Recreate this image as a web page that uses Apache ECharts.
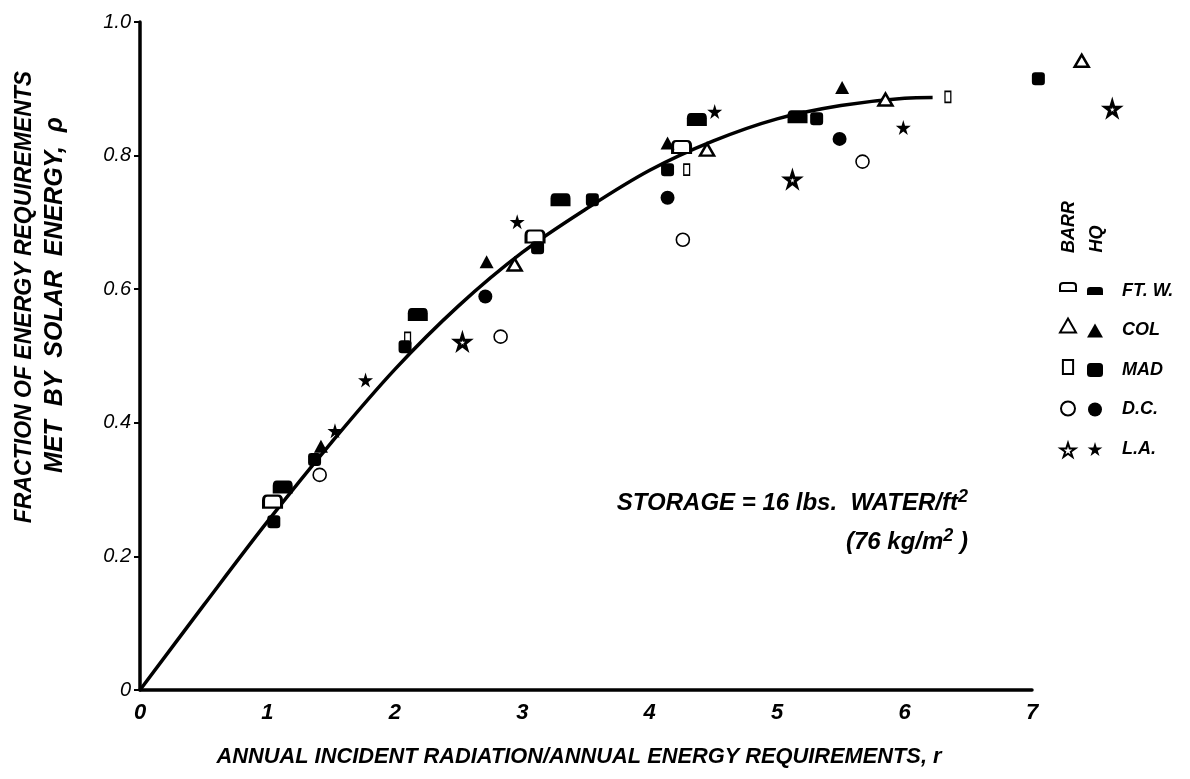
<!DOCTYPE html>
<html>
<head>
<meta charset="utf-8">
<title>Solar fraction vs. radiation/requirements ratio</title>
<script src="https://cdn.jsdelivr.net/npm/echarts@6/dist/echarts.min.js"></script>
<style>
  html, body { margin: 0; padding: 0; background: #fff; }
  #chart { width: 1190px; height: 779px; }
</style>
</head>
<body>
<div id="chart"></div>
<script>
// Axis ticks
const xTicks = [0, 1, 2, 3, 4, 5, 6, 7];
const yTickLabels = { 0: '0', 0.2: '0.2', 0.4: '0.4', 0.6: '0.6', 0.8: '0.8', 1: '1.0' };

// Fitted curve through the data
const curveX = [0, 0.5, 1, 1.5, 2, 2.5, 3, 3.5, 4, 4.5, 5, 5.5, 6, 6.22];
const curveY = [0, 0.127, 0.252, 0.37, 0.48, 0.575, 0.655, 0.72, 0.778, 0.822, 0.855, 0.875, 0.886, 0.887];

// Measured points: [r, rho] per site, BARR and HQ systems
const ftwBarr = [[1.04, 0.282], [3.10, 0.679], [4.25, 0.813]];
const ftwHq   = [[1.12, 0.304], [2.18, 0.562], [3.30, 0.734], [4.37, 0.854], [5.16, 0.858]];
const colBarr = [[2.94, 0.637], [4.45, 0.809], [5.85, 0.884], [7.39, 0.942]];
const colHq   = [[1.42, 0.365], [2.72, 0.641], [4.14, 0.819], [5.51, 0.902]];
const madBarr = [[2.10, 0.527], [4.29, 0.779], [6.34, 0.888]];
const madHq   = [[1.05, 0.252], [1.37, 0.345], [2.08, 0.514], [3.12, 0.662], [3.55, 0.734], [4.14, 0.779], [5.31, 0.855], [7.05, 0.915]];
const dcBarr  = [[1.41, 0.322], [2.83, 0.529], [4.26, 0.674], [5.67, 0.791]];
const dcHq    = [[2.71, 0.589], [4.14, 0.737], [5.49, 0.825]];
const laBarr  = [[2.53, 0.521], [5.12, 0.764], [7.63, 0.870]];
const laHq    = [[1.53, 0.388], [1.77, 0.464], [2.96, 0.701], [4.51, 0.866], [5.99, 0.842]];

const siteNames = ['FT. W.', 'COL', 'MAD', 'D.C.', 'L.A.'];

const FONT = '"Liberation Sans Narrow", "Liberation Sans", sans-serif';
const DOME = 'path://M0,10 L0,4 Q0,0 4,0 L16,0 Q20,0 20,4 L20,10 Z';
const BOX = 'path://M0,0 L8,0 L8,11 L0,11 Z';
const STAR = 'path://M50,0 L61,35 L98,35 L68,57 L79,91 L50,70 L21,91 L32,57 L2,35 L39,35 Z';

const openStyle = (w) => ({ color: '#fff', borderColor: '#000', borderWidth: w, opacity: 1 });
const fillStyle = { color: '#000', borderColor: '#000', borderWidth: 0, opacity: 1 };

function pts(name, data, symbol, size, style, keep) {
  return {
    type: 'scatter', name, data, symbol, symbolSize: size,
    symbolKeepAspect: !!keep, clip: false, z: 3,
    itemStyle: style, emphasis: { disabled: true }
  };
}

const barrNames = siteNames.map(s => s + ' BARR');
const hqNames = siteNames.map(s => s + ' HQ');

const series = [
  {
    type: 'line', name: 'curve', data: curveX.map((x, i) => [x, curveY[i]]),
    smooth: 0.35, showSymbol: false, symbol: 'none', clip: false, z: 2,
    lineStyle: { color: '#000', width: 3.5 }, emphasis: { disabled: true }
  },
  pts(barrNames[0], ftwBarr, DOME, [18, 12], openStyle(2.5)),
  pts(hqNames[0], ftwHq, DOME, [20, 13], fillStyle),
  pts(barrNames[1], colBarr, 'triangle', [14, 12], openStyle(2.5)),
  pts(hqNames[1], colHq, 'triangle', [14, 13], fillStyle),
  pts(barrNames[2], madBarr, BOX, [8, 11], openStyle(1.5), true),
  pts(hqNames[2], madHq, 'roundRect', [13, 13], fillStyle),
  pts(barrNames[3], dcBarr, 'circle', [13, 13], openStyle(1.6)),
  pts(hqNames[3], dcHq, 'circle', [14, 14], fillStyle),
  pts(barrNames[4], laBarr, STAR, [14, 14], openStyle(3)),
  pts(hqNames[4], laHq, STAR, [15, 15], fillStyle)
];

const legendCommon = {
  orient: 'vertical', top: 282, itemWidth: 16, itemHeight: 14,
  selectedMode: false, padding: 0, inactiveColor: '#000'
};

const chart = echarts.init(document.getElementById('chart'), null, { renderer: 'canvas' });
chart.setOption({
  backgroundColor: '#fff',
  animation: false,
  grid: { left: 140, right: 158, top: 22, bottom: 89, containLabel: false },
  xAxis: {
    type: 'value', min: 0, max: 7, interval: 1,
    axisLine: { show: true, lineStyle: { color: '#000', width: 3.5 } },
    axisTick: { show: false },
    splitLine: { show: false },
    axisLabel: {
      margin: 12, color: '#000', fontFamily: FONT, fontSize: 22,
      fontStyle: 'italic', fontWeight: 'bold',
      formatter: v => (xTicks.includes(v) ? String(v) : '')
    },
    name: 'ANNUAL INCIDENT RADIATION/ANNUAL ENERGY REQUIREMENTS, r',
    nameLocation: 'middle', nameGap: 56,
    nameTextStyle: {
      color: '#000', fontFamily: FONT, fontSize: 21.8, fontStyle: 'italic', fontWeight: 'bold',
      padding: [0, 14, 0, 0]
    }
  },
  yAxis: {
    type: 'value', min: 0, max: 1, interval: 0.2,
    axisLine: { show: true, lineStyle: { color: '#000', width: 3.5 } },
    axisTick: { show: true, length: 6, inside: false, lineStyle: { color: '#000', width: 2 } },
    splitLine: { show: false },
    axisLabel: {
      margin: 9, color: '#000', fontFamily: FONT, fontSize: 20, fontStyle: 'italic',
      formatter: v => yTickLabels[Math.round(v * 10) / 10] ?? ''
    }
  },
  legend: [
    Object.assign({}, legendCommon, {
      left: 1059, data: barrNames, itemGap: 25.5, formatter: () => '',
      textStyle: { fontSize: 1, lineHeight: 14 }
    }),
    Object.assign({}, legendCommon, {
      left: 1087, data: hqNames, itemGap: 21.5,
      formatter: n => n.replace(' HQ', ''),
      textStyle: {
        color: '#000', fontFamily: FONT, fontSize: 18, fontStyle: 'italic', fontWeight: 'bold',
        lineHeight: 16, padding: [0, 0, 0, 14]
      }
    })
  ],
  graphic: [
    // y-axis title, two rotated lines
    {
      type: 'text', x: 25, y: 297, rotation: Math.PI / 2,
      style: { text: 'FRACTION OF ENERGY REQUIREMENTS', fill: '#000', font: 'italic bold 23px ' + FONT, align: 'center', verticalAlign: 'middle' }
    },
    {
      type: 'text', x: 55, y: 295, rotation: Math.PI / 2,
      style: { text: 'MET  BY  SOLAR  ENERGY,  \u03C1', fill: '#000', font: 'italic bold 25px ' + FONT, align: 'center', verticalAlign: 'middle' }
    },
    // legend column headers
    {
      type: 'text', x: 1069, y: 227, rotation: Math.PI / 2,
      style: { text: 'BARR', fill: '#000', font: 'italic bold 18px ' + FONT, align: 'center', verticalAlign: 'middle' }
    },
    {
      type: 'text', x: 1097, y: 239, rotation: Math.PI / 2,
      style: { text: 'HQ', fill: '#000', font: 'italic bold 18px ' + FONT, align: 'center', verticalAlign: 'middle' }
    },
    // storage note
    {
      type: 'text', x: 968, y: 503,
      style: {
        text: '{t|STORAGE = 16 lbs.  WATER/ft}{s|2}',
        align: 'right', verticalAlign: 'middle',
        rich: {
          t: { fill: '#000', fontFamily: FONT, fontSize: 24, fontStyle: 'italic', fontWeight: 'bold', lineHeight: 30 },
          s: { fill: '#000', fontFamily: FONT, fontSize: 18, fontStyle: 'italic', fontWeight: 'bold', lineHeight: 6, verticalAlign: 'top' }
        }
      }
    },
    {
      type: 'text', x: 968, y: 542,
      style: {
        text: '{t|(76 kg/m}{s|2}{t| )}',
        align: 'right', verticalAlign: 'middle',
        rich: {
          t: { fill: '#000', fontFamily: FONT, fontSize: 24, fontStyle: 'italic', fontWeight: 'bold', lineHeight: 30 },
          s: { fill: '#000', fontFamily: FONT, fontSize: 18, fontStyle: 'italic', fontWeight: 'bold', lineHeight: 6, verticalAlign: 'top' }
        }
      }
    }
  ],
  series
});
</script>
</body>
</html>
